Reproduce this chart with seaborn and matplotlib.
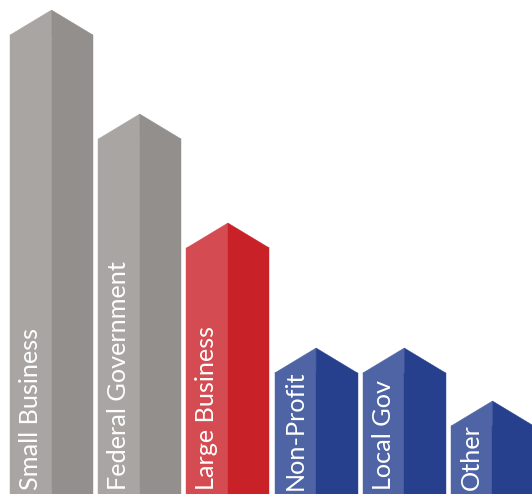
import matplotlib
matplotlib.use("Agg")
import matplotlib.pyplot as plt
import seaborn as sns
import pandas as pd

categories = ["Small Business", "Federal Government", "Large Business",
              "Non-Profit", "Local Gov", "Other"]
values = [484, 380, 271, 146, 146, 93]
groups = ["grey", "grey", "red", "blue", "blue", "blue"]

light = {"grey": "#a9a5a2", "red": "#d44b52", "blue": "#4f64a5"}
dark = {"grey": "#938f8c", "red": "#c92128", "blue": "#26408e"}
ROOF = 25

sns.set_theme(style="white")
plt.rcParams["font.family"] = ["Lato", "DejaVu Sans"]

fig = plt.figure(figsize=(5.32, 4.94), dpi=100)
ax = fig.add_axes([0, 0, 1, 1])

df = pd.DataFrame({
    "category": categories * 2,
    "side": ["left"] * len(categories) + ["right"] * len(categories),
    "body": [v - ROOF for v in values] * 2,
})
sns.barplot(data=df, x="category", y="body", hue="side", order=categories,
            hue_order=["left", "right"], dodge=True, width=0.94, gap=0,
            palette=["#888888", "#666666"], saturation=1, linewidth=0,
            legend=False, ax=ax)

left_bars = ax.containers[0]
right_bars = ax.containers[1]
for i, (lp, rp) in enumerate(zip(left_bars, right_bars)):
    cl = light[groups[i]]
    cd = dark[groups[i]]
    lp.set_facecolor(cl)
    lp.set_edgecolor(cl)
    lp.set_linewidth(0.3)
    rp.set_facecolor(cd)
    rp.set_edgecolor(cd)
    rp.set_linewidth(0.3)
    x0 = lp.get_x()
    xc = rp.get_x()
    x1 = rp.get_x() + rp.get_width()
    body = lp.get_height()
    peak = values[i]
    ax.fill([x0, xc, xc], [body, peak, body], color=cl, lw=0.3, ec=cl)
    ax.fill([xc, xc, x1], [body, peak, body], color=cd, lw=0.3, ec=cd)
    ax.text(x0 + 28 / 88.2, 4, categories[i], rotation=90,
            rotation_mode="anchor", ha="left", va="baseline",
            color="white", fontsize=18.2, fontweight="normal")

ax.set_xlim(-0.584, 5.448)
ax.set_ylim(0, 494)
ax.axis("off")
fig.savefig("out.png", dpi=100, facecolor="white")
